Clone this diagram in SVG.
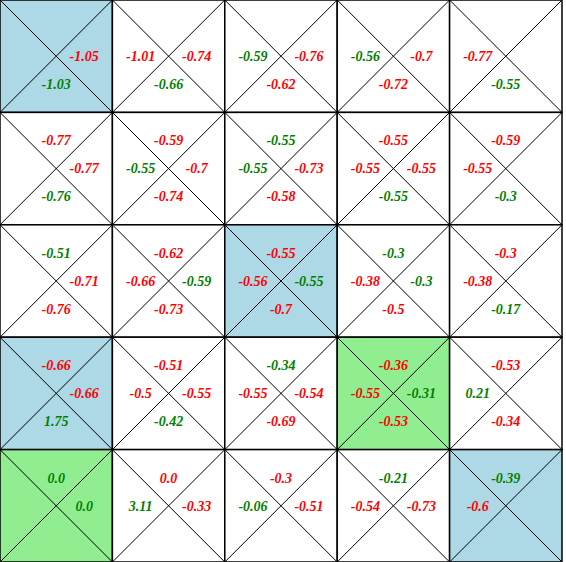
<svg xmlns="http://www.w3.org/2000/svg" width="566" height="562" viewBox="0 0 566 562">
<style>
.cell{stroke:#000;stroke-width:1.5}
.w{fill:#fff}.b{fill:#add8e6}.g{fill:#90ee90}
.d{stroke:#000;stroke-width:1}
text{font-family:"Liberation Serif","Times New Roman",serif;font-size:14px;font-weight:bold;font-style:italic;text-anchor:middle}
.r{fill:#ff0000}.n{fill:#008000}
</style>
<rect width="566" height="562" fill="#fff"/>
<g id="cells">
<g id="c00"><rect class="cell b" x="0" y="0" width="112.4" height="112.4"/><line class="d" x1="0" y1="0" x2="112.4" y2="112.4"/><line class="d" x1="112.4" y1="0" x2="0" y2="112.4"/><text class="r" x="84.2" y="60.9">-1.05</text><text class="n" x="56.2" y="88.9">-1.03</text></g>
<g id="c01"><rect class="cell w" x="112.4" y="0" width="112.4" height="112.4"/><line class="d" x1="112.4" y1="0" x2="224.8" y2="112.4"/><line class="d" x1="224.8" y1="0" x2="112.4" y2="112.4"/><text class="r" x="140.6" y="60.9">-1.01</text><text class="r" x="196.6" y="60.9">-0.74</text><text class="n" x="168.6" y="88.9">-0.66</text></g>
<g id="c02"><rect class="cell w" x="224.8" y="0" width="112.4" height="112.4"/><line class="d" x1="224.8" y1="0" x2="337.2" y2="112.4"/><line class="d" x1="337.2" y1="0" x2="224.8" y2="112.4"/><text class="n" x="253" y="60.9">-0.59</text><text class="r" x="309" y="60.9">-0.76</text><text class="r" x="281" y="88.9">-0.62</text></g>
<g id="c03"><rect class="cell w" x="337.2" y="0" width="112.4" height="112.4"/><line class="d" x1="337.2" y1="0" x2="449.6" y2="112.4"/><line class="d" x1="449.6" y1="0" x2="337.2" y2="112.4"/><text class="n" x="365.4" y="60.9">-0.56</text><text class="r" x="421.4" y="60.9">-0.7</text><text class="r" x="393.4" y="88.9">-0.72</text></g>
<g id="c04"><rect class="cell w" x="449.6" y="0" width="112.4" height="112.4"/><line class="d" x1="449.6" y1="0" x2="562" y2="112.4"/><line class="d" x1="562" y1="0" x2="449.6" y2="112.4"/><text class="r" x="477.8" y="60.9">-0.77</text><text class="n" x="505.8" y="88.9">-0.55</text></g>

<g id="c10"><rect class="cell w" x="0" y="112.4" width="112.4" height="112.4"/><line class="d" x1="0" y1="112.4" x2="112.4" y2="224.8"/><line class="d" x1="112.4" y1="112.4" x2="0" y2="224.8"/><text class="r" x="56.2" y="145.3">-0.77</text><text class="r" x="84.2" y="173.3">-0.77</text><text class="n" x="56.2" y="201.3">-0.76</text></g>
<g id="c11"><rect class="cell w" x="112.4" y="112.4" width="112.4" height="112.4"/><line class="d" x1="112.4" y1="112.4" x2="224.8" y2="224.8"/><line class="d" x1="224.8" y1="112.4" x2="112.4" y2="224.8"/><text class="r" x="168.6" y="145.3">-0.59</text><text class="n" x="140.6" y="173.3">-0.55</text><text class="r" x="196.6" y="173.3">-0.7</text><text class="r" x="168.6" y="201.3">-0.74</text></g>
<g id="c12"><rect class="cell w" x="224.8" y="112.4" width="112.4" height="112.4"/><line class="d" x1="224.8" y1="112.4" x2="337.2" y2="224.8"/><line class="d" x1="337.2" y1="112.4" x2="224.8" y2="224.8"/><text class="n" x="281" y="145.3">-0.55</text><text class="n" x="253" y="173.3">-0.55</text><text class="r" x="309" y="173.3">-0.73</text><text class="r" x="281" y="201.3">-0.58</text></g>
<g id="c13"><rect class="cell w" x="337.2" y="112.4" width="112.4" height="112.4"/><line class="d" x1="337.2" y1="112.4" x2="449.6" y2="224.8"/><line class="d" x1="449.6" y1="112.4" x2="337.2" y2="224.8"/><text class="r" x="393.4" y="145.3">-0.55</text><text class="r" x="365.4" y="173.3">-0.55</text><text class="r" x="421.4" y="173.3">-0.55</text><text class="n" x="393.4" y="201.3">-0.55</text></g>
<g id="c14"><rect class="cell w" x="449.6" y="112.4" width="112.4" height="112.4"/><line class="d" x1="449.6" y1="112.4" x2="562" y2="224.8"/><line class="d" x1="562" y1="112.4" x2="449.6" y2="224.8"/><text class="r" x="505.8" y="145.3">-0.59</text><text class="r" x="477.8" y="173.3">-0.55</text><text class="n" x="505.8" y="201.3">-0.3</text></g>

<g id="c20"><rect class="cell w" x="0" y="224.8" width="112.4" height="112.4"/><line class="d" x1="0" y1="224.8" x2="112.4" y2="337.2"/><line class="d" x1="112.4" y1="224.8" x2="0" y2="337.2"/><text class="n" x="56.2" y="257.7">-0.51</text><text class="r" x="84.2" y="285.7">-0.71</text><text class="r" x="56.2" y="313.7">-0.76</text></g>
<g id="c21"><rect class="cell w" x="112.4" y="224.8" width="112.4" height="112.4"/><line class="d" x1="112.4" y1="224.8" x2="224.8" y2="337.2"/><line class="d" x1="224.8" y1="224.8" x2="112.4" y2="337.2"/><text class="r" x="168.6" y="257.7">-0.62</text><text class="r" x="140.6" y="285.7">-0.66</text><text class="n" x="196.6" y="285.7">-0.59</text><text class="r" x="168.6" y="313.7">-0.73</text></g>
<g id="c22"><rect class="cell b" x="224.8" y="224.8" width="112.4" height="112.4"/><line class="d" x1="224.8" y1="224.8" x2="337.2" y2="337.2"/><line class="d" x1="337.2" y1="224.8" x2="224.8" y2="337.2"/><text class="r" x="281" y="257.7">-0.55</text><text class="r" x="253" y="285.7">-0.56</text><text class="n" x="309" y="285.7">-0.55</text><text class="r" x="281" y="313.7">-0.7</text></g>
<g id="c23"><rect class="cell w" x="337.2" y="224.8" width="112.4" height="112.4"/><line class="d" x1="337.2" y1="224.8" x2="449.6" y2="337.2"/><line class="d" x1="449.6" y1="224.8" x2="337.2" y2="337.2"/><text class="n" x="393.4" y="257.7">-0.3</text><text class="r" x="365.4" y="285.7">-0.38</text><text class="n" x="421.4" y="285.7">-0.3</text><text class="r" x="393.4" y="313.7">-0.5</text></g>
<g id="c24"><rect class="cell w" x="449.6" y="224.8" width="112.4" height="112.4"/><line class="d" x1="449.6" y1="224.8" x2="562" y2="337.2"/><line class="d" x1="562" y1="224.8" x2="449.6" y2="337.2"/><text class="r" x="505.8" y="257.7">-0.3</text><text class="r" x="477.8" y="285.7">-0.38</text><text class="n" x="505.8" y="313.7">-0.17</text></g>

<g id="c30"><rect class="cell b" x="0" y="337.2" width="112.4" height="112.4"/><line class="d" x1="0" y1="337.2" x2="112.4" y2="449.6"/><line class="d" x1="112.4" y1="337.2" x2="0" y2="449.6"/><text class="r" x="56.2" y="370.1">-0.66</text><text class="r" x="84.2" y="398.1">-0.66</text><text class="n" x="56.2" y="426.1">1.75</text></g>
<g id="c31"><rect class="cell w" x="112.4" y="337.2" width="112.4" height="112.4"/><line class="d" x1="112.4" y1="337.2" x2="224.8" y2="449.6"/><line class="d" x1="224.8" y1="337.2" x2="112.4" y2="449.6"/><text class="r" x="168.6" y="370.1">-0.51</text><text class="r" x="140.6" y="398.1">-0.5</text><text class="r" x="196.6" y="398.1">-0.55</text><text class="n" x="168.6" y="426.1">-0.42</text></g>
<g id="c32"><rect class="cell w" x="224.8" y="337.2" width="112.4" height="112.4"/><line class="d" x1="224.8" y1="337.2" x2="337.2" y2="449.6"/><line class="d" x1="337.2" y1="337.2" x2="224.8" y2="449.6"/><text class="n" x="281" y="370.1">-0.34</text><text class="r" x="253" y="398.1">-0.55</text><text class="r" x="309" y="398.1">-0.54</text><text class="r" x="281" y="426.1">-0.69</text></g>
<g id="c33"><rect class="cell g" x="337.2" y="337.2" width="112.4" height="112.4"/><line class="d" x1="337.2" y1="337.2" x2="449.6" y2="449.6"/><line class="d" x1="449.6" y1="337.2" x2="337.2" y2="449.6"/><text class="r" x="393.4" y="370.1">-0.36</text><text class="r" x="365.4" y="398.1">-0.55</text><text class="n" x="421.4" y="398.1">-0.31</text><text class="r" x="393.4" y="426.1">-0.53</text></g>
<g id="c34"><rect class="cell w" x="449.6" y="337.2" width="112.4" height="112.4"/><line class="d" x1="449.6" y1="337.2" x2="562" y2="449.6"/><line class="d" x1="562" y1="337.2" x2="449.6" y2="449.6"/><text class="r" x="505.8" y="370.1">-0.53</text><text class="n" x="477.8" y="398.1">0.21</text><text class="r" x="505.8" y="426.1">-0.34</text></g>

<g id="c40"><rect class="cell g" x="0" y="449.6" width="112.4" height="112.4"/><line class="d" x1="0" y1="449.6" x2="112.4" y2="562"/><line class="d" x1="112.4" y1="449.6" x2="0" y2="562"/><text class="n" x="56.2" y="482.5">0.0</text><text class="n" x="84.2" y="510.5">0.0</text></g>
<g id="c41"><rect class="cell w" x="112.4" y="449.6" width="112.4" height="112.4"/><line class="d" x1="112.4" y1="449.6" x2="224.8" y2="562"/><line class="d" x1="224.8" y1="449.6" x2="112.4" y2="562"/><text class="r" x="168.6" y="482.5">0.0</text><text class="n" x="140.6" y="510.5">3.11</text><text class="r" x="196.6" y="510.5">-0.33</text></g>
<g id="c42"><rect class="cell w" x="224.8" y="449.6" width="112.4" height="112.4"/><line class="d" x1="224.8" y1="449.6" x2="337.2" y2="562"/><line class="d" x1="337.2" y1="449.6" x2="224.8" y2="562"/><text class="r" x="281" y="482.5">-0.3</text><text class="n" x="253" y="510.5">-0.06</text><text class="r" x="309" y="510.5">-0.51</text></g>
<g id="c43"><rect class="cell w" x="337.2" y="449.6" width="112.4" height="112.4"/><line class="d" x1="337.2" y1="449.6" x2="449.6" y2="562"/><line class="d" x1="449.6" y1="449.6" x2="337.2" y2="562"/><text class="n" x="393.4" y="482.5">-0.21</text><text class="r" x="365.4" y="510.5">-0.54</text><text class="r" x="421.4" y="510.5">-0.73</text></g>
<g id="c44"><rect class="cell b" x="449.6" y="449.6" width="112.4" height="112.4"/><line class="d" x1="449.6" y1="449.6" x2="562" y2="562"/><line class="d" x1="562" y1="449.6" x2="449.6" y2="562"/><text class="n" x="505.8" y="482.5">-0.39</text><text class="r" x="477.8" y="510.5">-0.6</text></g>
</g>
<g id="connectors"></g>
</svg>
